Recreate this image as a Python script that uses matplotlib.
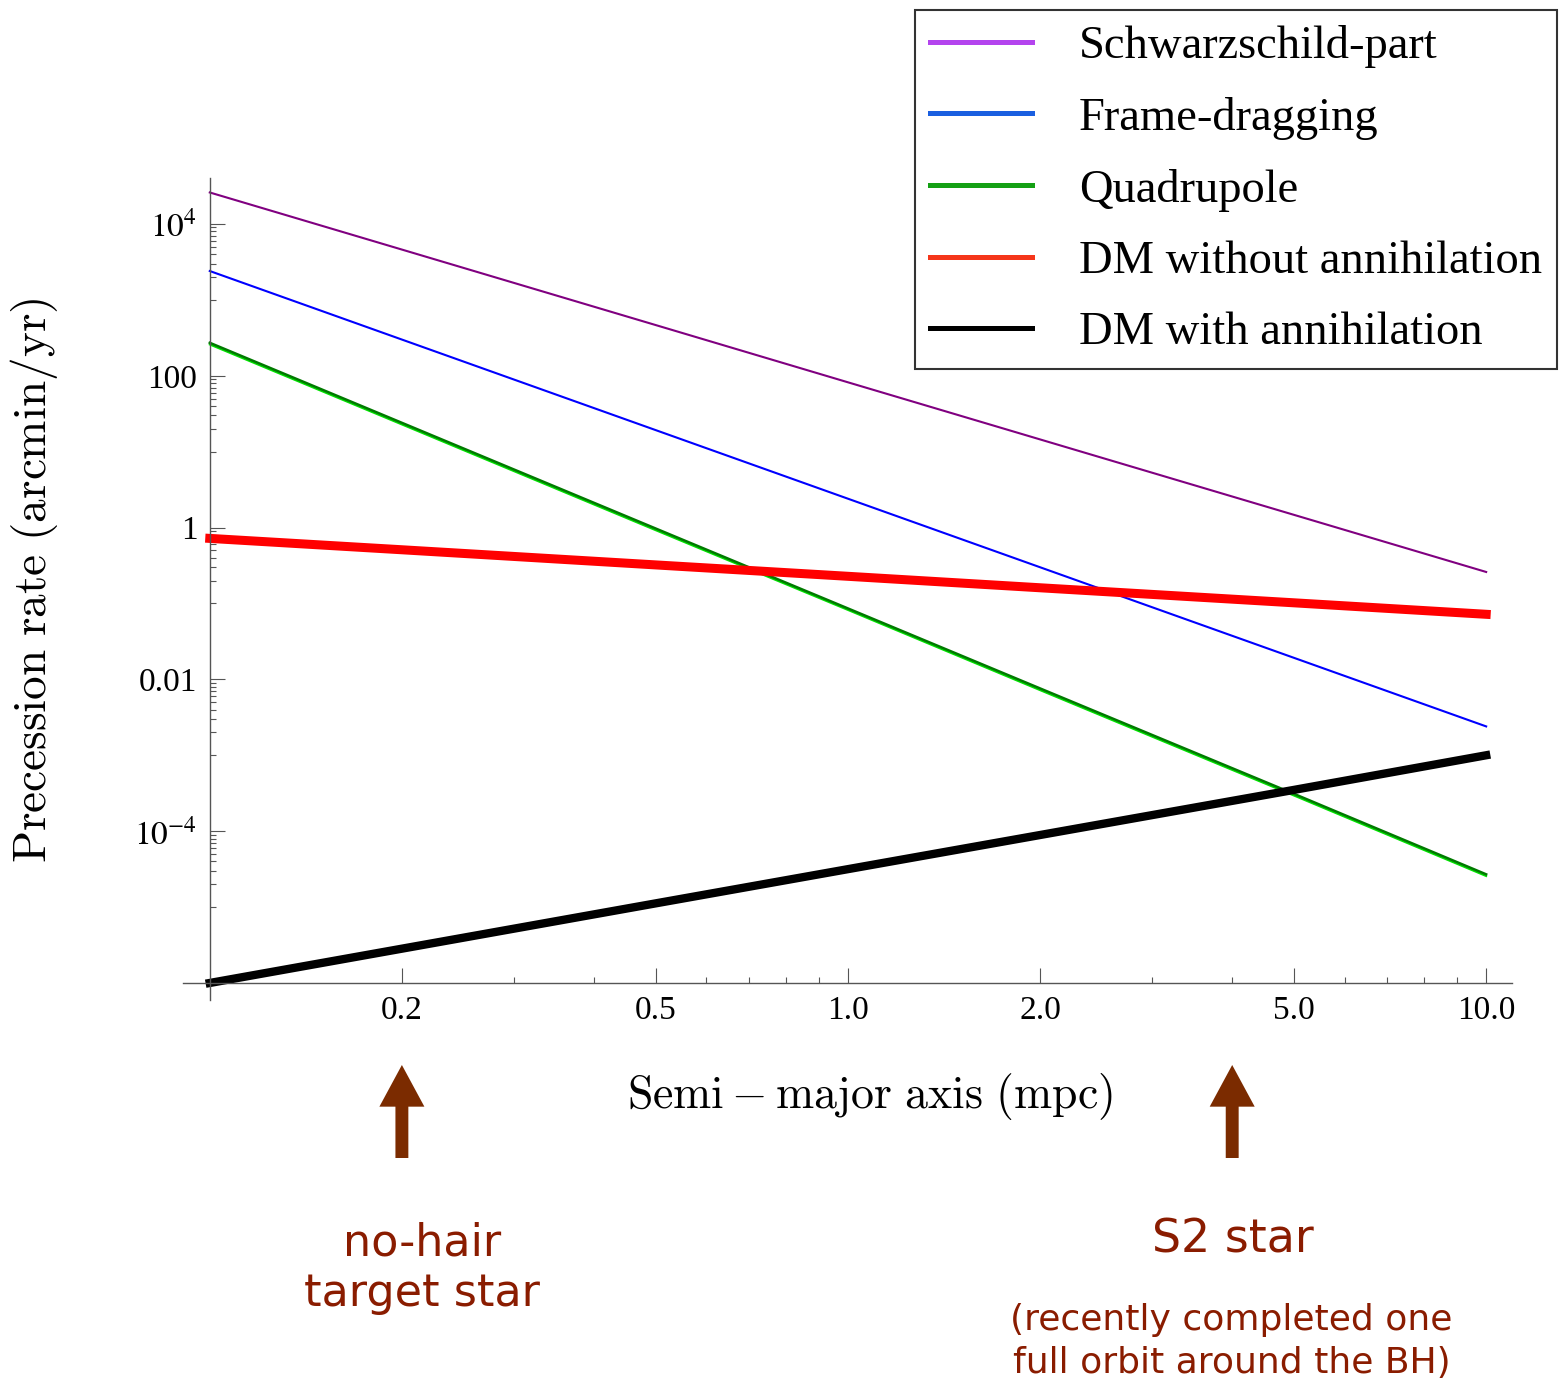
import matplotlib
matplotlib.use("Agg")
import matplotlib.pyplot as plt
from matplotlib.lines import Line2D
from matplotlib.ticker import FixedLocator, NullFormatter

plt.rcParams['font.family'] = ['Liberation Serif', 'DejaVu Serif']
plt.rcParams['mathtext.fontset'] = 'stix'

# semi-major axis (mpc) and precession rates (arcmin/yr)
a = [0.1, 0.2, 0.5, 1.0, 2.0, 5.0, 10.0]
schwarzschild = [2.6e4, 4.6e3, 465, 82, 14.5, 1.47, 0.26]
frame_dragging = [2.4e3, 300, 19.2, 2.4, 0.30, 0.0192, 0.0024]
quadrupole = [272, 24.0, 0.97, 0.086, 0.0076, 3.1e-4, 2.7e-5]
quadrupole_b = [258, 22.8, 0.92, 0.082, 0.0072, 2.94e-4, 2.56e-5]
dm_no_ann = [0.72, 0.51, 0.322, 0.228, 0.161, 0.102, 0.072]
dm_ann = [1.0e-6, 2.83e-6, 1.12e-5, 3.16e-5, 8.9e-5, 3.5e-4, 1.0e-3]

labels = ["Schwarzschild-part", "Frame-dragging", "Quadrupole",
          "DM without annihilation", "DM with annihilation"]
legend_colors = ['#b444ee', '#1a5fe0', '#14a014', '#f5361a', 'black']

x_major = [0.2, 0.5, 1.0, 2.0, 5.0, 10.0]
x_major_labels = ["0.2", "0.5", "1.0", "2.0", "5.0", "10.0"]
x_minor = [0.3, 0.4, 0.6, 0.7, 0.8, 0.9, 3, 4, 6, 7, 8, 9]
y_major = [1e4, 1e2, 1, 1e-2, 1e-4]
y_major_labels = [r"$10^{4}$", "100", "1", "0.01", r"$10^{-4}$"]

fig = plt.figure(figsize=(15.59, 13.85), dpi=100)
ax = fig.add_axes([0.1174, 0.278, 0.8525, 0.5935])

ax.plot(a, schwarzschild, color='#800080', lw=1.5)
ax.plot(a, frame_dragging, color='#0000ff', lw=1.5)
ax.plot(a, quadrupole_b, color='#00e000', lw=1.4)
ax.plot(a, quadrupole, color='#007a00', lw=1.8)
ax.plot(a, dm_no_ann, color='#ff0000', lw=6.5)
ax.plot(a, dm_ann, color='black', lw=6)

ax.set_xscale('log')
ax.set_yscale('log')
ax.set_xlim(0.0908, 10.98)
ax.set_ylim(10 ** -6.224, 10 ** 4.606)

# Mathematica-like axes crossing at (0.1, 1e-6)
ax.spines['top'].set_visible(False)
ax.spines['right'].set_visible(False)
ax.spines['left'].set_position(('data', 0.1))
ax.spines['bottom'].set_position(('data', 1e-6))
for s in ['left', 'bottom']:
    ax.spines[s].set_color('#555555')
    ax.spines[s].set_linewidth(1.0)

ax.xaxis.set_major_locator(FixedLocator(x_major))
ax.xaxis.set_minor_locator(FixedLocator(x_minor))
ax.set_xticklabels(x_major_labels)
ax.xaxis.set_minor_formatter(NullFormatter())

y_minor = [j * m / 10 for m in y_major for j in range(1, 10)]
ax.yaxis.set_major_locator(FixedLocator(y_major))
ax.yaxis.set_minor_locator(FixedLocator(y_minor))
ax.set_yticklabels(y_major_labels)
ax.yaxis.set_minor_formatter(NullFormatter())

ax.tick_params(which='major', direction='in', length=11, width=0.8,
               color='#555555', labelsize=24, pad=9)
ax.tick_params(which='minor', direction='in', length=4, width=0.8,
               color='#555555')

ax.set_xlabel(r"$\mathrm{Semi}-\mathrm{major\ axis\ (mpc)}$", fontsize=33,
              math_fontfamily='cm')
ax.set_ylabel(r"$\mathrm{Precession\ rate\ (arcmin/yr)}$", fontsize=34,
              math_fontfamily='cm')
ax.xaxis.set_label_coords(0.517, -0.087)
ax.yaxis.set_label_coords(-0.0926, 0.51)

handles = [Line2D([], [], color=c, lw=3.6) for c in legend_colors]
leg = fig.legend(handles, labels, loc='upper right',
                 bbox_to_anchor=(0.9987, 0.9928), fontsize=33.5,
                 frameon=True, fancybox=False, handlelength=2.2,
                 handletextpad=1.0, labelspacing=0.62, borderpad=0.32,
                 borderaxespad=0.0)
leg.get_frame().set_edgecolor('black')
leg.get_frame().set_linewidth(1.5)

# arrows marking the two stars
arrow_color = '#7b2b00'
for xa in [0.2, 4.0]:
    ax.annotate("", xy=(xa, 1 - 1065 / 1385), xytext=(xa, 1 - 1158 / 1385),
                xycoords=('data', 'figure fraction'),
                textcoords=('data', 'figure fraction'),
                arrowprops=dict(arrowstyle='simple,head_length=1.0,head_width=1.08,tail_width=0.31',
                                fc=arrow_color, ec='none', shrinkA=0, shrinkB=0,
                                mutation_scale=30),
                annotation_clip=False)

text_color = '#8a1c00'
comic = ['DejaVu Sans']
fig.text(0.2707, 0.1025, "no-hair", ha='center', va='center', fontsize=32,
         color=text_color, family=comic)
fig.text(0.2707, 0.0664, "target star", ha='center', va='center', fontsize=32,
         color=text_color, family=comic)
fig.text(0.791, 0.1047, "S2 star", ha='center', va='center', fontsize=33,
         color=text_color, family=comic)
fig.text(0.790, 0.047, "(recently completed one", ha='center', va='center',
         fontsize=26, color=text_color, family=comic)
fig.text(0.790, 0.0159, "full orbit around the BH)", ha='center', va='center',
         fontsize=26, color=text_color, family=comic)

fig.savefig("out.png", dpi=100)
